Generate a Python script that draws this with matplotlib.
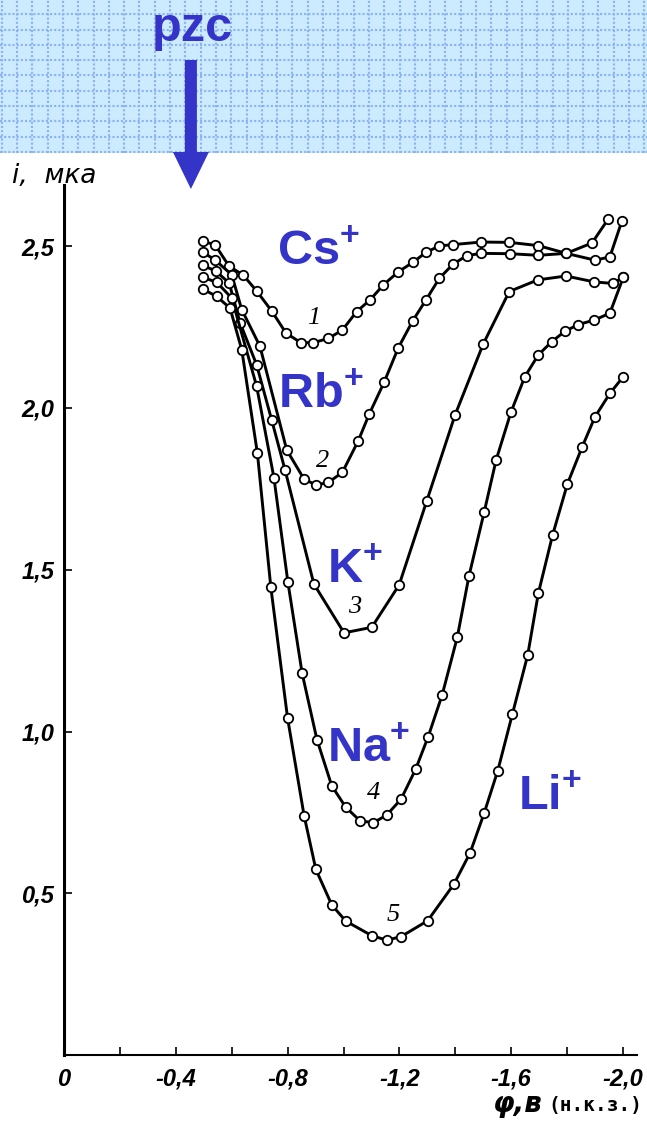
import numpy as np
import matplotlib
matplotlib.use("Agg")
import matplotlib.pyplot as plt
from matplotlib.patches import Polygon

# Curves: potential phi (V, n.c.e.) and current i (uA)
phi_cs = [-0.496, -0.540, -0.591, -0.641, -0.689, -0.743, -0.794, -0.847, -0.892, -0.946,
          -0.996, -1.047, -1.095, -1.142, -1.196, -1.248, -1.295, -1.343, -1.391, -1.492,
          -1.593, -1.697, -1.797, -1.900, -1.953, -1.996]
i_cs = [2.515, 2.505, 2.438, 2.411, 2.362, 2.300, 2.232, 2.202, 2.202, 2.215,
        2.241, 2.298, 2.334, 2.380, 2.421, 2.450, 2.481, 2.501, 2.505, 2.513,
        2.512, 2.502, 2.478, 2.457, 2.467, 2.578]

phi_rb = [-0.496, -0.540, -0.600, -0.636, -0.701, -0.797, -0.859, -0.902, -0.946, -0.996,
          -1.053, -1.092, -1.145, -1.196, -1.248, -1.295, -1.343, -1.391, -1.441, -1.493,
          -1.594, -1.697, -1.797, -1.889, -1.947]
i_rb = [2.482, 2.458, 2.412, 2.304, 2.191, 1.870, 1.780, 1.762, 1.770, 1.801,
        1.899, 1.981, 2.079, 2.186, 2.270, 2.334, 2.401, 2.444, 2.471, 2.478,
        2.477, 2.472, 2.478, 2.510, 2.584]

phi_k = [-0.496, -0.544, -0.591, -0.630, -0.689, -0.743, -0.791, -0.894, -1.002, -1.101,
         -1.199, -1.298, -1.399, -1.500, -1.593, -1.695, -1.796, -1.896, -1.963, -2.001]
i_k = [2.441, 2.423, 2.386, 2.263, 2.134, 1.963, 1.808, 1.456, 1.305, 1.322,
       1.453, 1.713, 1.978, 2.198, 2.360, 2.396, 2.408, 2.390, 2.385, 2.404]

phi_na = [-0.496, -0.546, -0.600, -0.689, -0.751, -0.801, -0.852, -0.905, -0.958, -1.008,
          -1.059, -1.107, -1.155, -1.206, -1.258, -1.303, -1.353, -1.407, -1.449, -1.503,
          -1.546, -1.599, -1.649, -1.697, -1.745, -1.792, -1.840, -1.898, -1.953, -2.001]
i_na = [2.404, 2.389, 2.340, 2.068, 1.785, 1.462, 1.180, 0.975, 0.832, 0.766,
        0.724, 0.718, 0.742, 0.791, 0.883, 0.984, 1.113, 1.291, 1.481, 1.677,
        1.839, 1.987, 2.097, 2.164, 2.205, 2.237, 2.258, 2.272, 2.293, 2.404]

phi_li = [-0.496, -0.546, -0.594, -0.636, -0.692, -0.740, -0.800, -0.859, -0.901, -0.958,
          -1.008, -1.101, -1.155, -1.206, -1.301, -1.395, -1.453, -1.503, -1.552, -1.604,
          -1.659, -1.697, -1.748, -1.801, -1.854, -1.900, -1.953, -2.001]
i_li = [2.368, 2.345, 2.309, 2.180, 1.860, 1.446, 1.041, 0.740, 0.574, 0.464,
        0.414, 0.369, 0.355, 0.366, 0.415, 0.528, 0.625, 0.747, 0.879, 1.053,
        1.236, 1.427, 1.607, 1.765, 1.880, 1.973, 2.045, 2.097]

curves = [(phi_cs, i_cs), (phi_rb, i_rb), (phi_k, i_k), (phi_na, i_na), (phi_li, i_li)]

curve_numbers = ["1", "2", "3", "4", "5"]
number_phi = [-0.892, -0.926, -1.041, -1.107, -1.178]
number_i = [2.277, 1.835, 1.386, 0.809, 0.433]

ion_labels = [r"$\mathrm{Cs}^{+}$", r"$\mathrm{Rb}^{+}$", r"$\mathrm{K}^{+}$",
              r"$\mathrm{Na}^{+}$", r"$\mathrm{Li}^{+}$"]
ion_phi = [-0.762, -0.766, -0.941, -0.941, -1.624]
ion_i = [2.442, 2.000, 1.459, 0.906, 0.757]

x_ticks = [0, -0.2, -0.4, -0.6, -0.8, -1.0, -1.2, -1.4, -1.6, -1.8, -2.0]
x_ticklabels = ["0", "", "-0,4", "", "-0,8", "", "-1,2", "", "-1,6", "", "-2,0"]
y_ticks = [0.5, 1.0, 1.5, 2.0, 2.5]
y_ticklabels = ["0,5", "1,0", "1,5", "2,0", "2,5"]

pzc_phi = -0.454

BLUE = "#3434C8"
W, H = 647, 1133

plt.rcParams["mathtext.fontset"] = "custom"
plt.rcParams["mathtext.rm"] = "Liberation Sans:bold"
plt.rcParams["mathtext.bf"] = "Liberation Sans:bold"

fig = plt.figure(figsize=(W / 100, H / 100), dpi=100)
fig.patch.set_facecolor("white")

# light blue grid paper band at the top
band_h = 153
band = fig.add_axes([0, 1 - band_h / H, 1, band_h / H])
band.set_xlim(0, W)
band.set_ylim(band_h, 0)
band.set_facecolor("#CCEBFF")
for s in band.spines.values():
    s.set_visible(False)
band.set_xticks([])
band.set_yticks([])
for gx in np.arange(1.7, W, 15.3):
    band.axvline(gx, color="#8AB2F4", lw=1.5, ls=(0, (1, 1)))
for gy in np.arange(14.2, band_h, 15.3):
    band.axhline(gy, color="#8AB2F4", lw=1.5, ls=(0, (1, 1)))

# main chart
x0, y0 = 64, 1055
px_per_v, px_per_ua = 279.5, 323.5
xmax, ymax = -2.05, 2.69
ax = fig.add_axes([x0 / W, (H - y0) / H, (-xmax * px_per_v) / W, (ymax * px_per_ua) / H])
ax.set_xlim(0, xmax)
ax.set_ylim(0, ymax)
ax.patch.set_alpha(0)

for phi, cur in curves:
    ax.plot(phi, cur, color="black", lw=2.1, marker="o", ms=6.8,
            mfc="white", mec="black", mew=1.3, zorder=3)

for txt, px, py in zip(curve_numbers, number_phi, number_i):
    ax.text(px, py, txt, ha="center", va="center", fontsize=19, style="italic",
            family="Liberation Serif", zorder=4)

for txt, px, py in zip(ion_labels, ion_phi, ion_i):
    ax.text(px, py, txt, ha="left", va="baseline", fontsize=35, color=BLUE, zorder=5)

ax.spines["top"].set_visible(False)
ax.spines["right"].set_visible(False)
ax.spines["left"].set_linewidth(2.2)
ax.spines["bottom"].set_linewidth(1.5)
ax.set_xticks(x_ticks)
ax.set_xticklabels(x_ticklabels)
ax.set_yticks(y_ticks)
ax.set_yticklabels(y_ticklabels)
ax.tick_params(axis="both", direction="in", length=6, width=1.2)
ax.tick_params(axis="x", pad=9)
ax.tick_params(axis="y", pad=7)
for lab in ax.get_xticklabels() + ax.get_yticklabels():
    lab.set_fontfamily("Liberation Sans")
    lab.set_fontweight("bold")
    lab.set_fontstyle("italic")
    lab.set_fontsize(17)

# overlay in pixel coordinates for arrow and axis titles
ov = fig.add_axes([0, 0, 1, 1])
ov.set_xlim(0, W)
ov.set_ylim(H, 0)
ov.axis("off")
ov.patch.set_alpha(0)

ax_x = x0 - pzc_phi * px_per_v
arrow = Polygon([(ax_x - 6, 60), (ax_x + 6, 60), (ax_x + 6, 152), (ax_x + 18, 152),
                 (ax_x, 189), (ax_x - 18, 152), (ax_x - 6, 152)],
                closed=True, color=BLUE, lw=0)
ov.add_patch(arrow)
ov.text(ax_x + 1, 41, "pzc", ha="center", va="baseline", fontsize=35,
        fontweight="bold", color=BLUE, family="Liberation Sans")

ov.text(12, 183, "i,  мка", ha="left", va="baseline", fontsize=19, style="italic",
        family="DejaVu Sans")
ov.text(493, 1112, "φ,в", ha="left", va="baseline", fontsize=20, style="italic",
        fontweight="bold", family="DejaVu Sans")
ov.text(548, 1111, "(н.к.з.)", ha="left", va="baseline", fontsize=14,
        fontweight="bold", family="DejaVu Sans Mono")

fig.savefig("out.png", dpi=100)
